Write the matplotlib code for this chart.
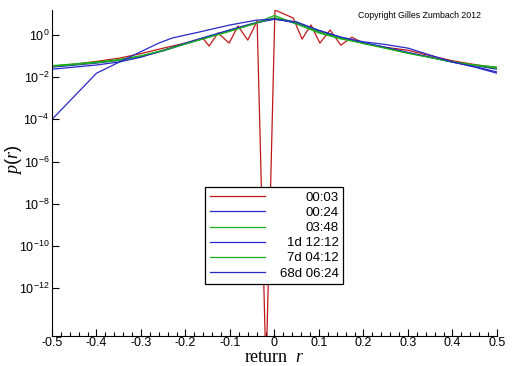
import numpy as np
import matplotlib
matplotlib.use("Agg")
import matplotlib.pyplot as plt

plt.rcParams['font.family'] = 'Liberation Sans'
plt.rcParams['mathtext.fontset'] = 'custom'
plt.rcParams['mathtext.rm'] = 'Liberation Sans'
plt.rcParams['mathtext.it'] = 'Liberation Serif:italic'

# common return grid for the smooth curves
r_grid = [-0.5, -0.45, -0.4, -0.35, -0.3, -0.25, -0.2, -0.15, -0.1, -0.05, 0.0,
          0.05, 0.1, 0.15, 0.2, 0.25, 0.3, 0.35, 0.4, 0.45, 0.5]

# 00:03 (red) - jagged at short time scale
r_0003 = [-0.5, -0.45, -0.4, -0.35, -0.3, -0.25, -0.2, -0.161, -0.147, -0.127, -0.102,
          -0.082, -0.060, -0.039, -0.019, 0.001, 0.042, 0.062, 0.082, 0.102, 0.125,
          0.149, 0.174, 0.2, 0.25, 0.3, 0.35, 0.4, 0.45, 0.5]
lp_0003 = [-1.48, -1.38, -1.25, -1.10, -0.88, -0.62, -0.38, -0.14, -0.52, 0.10, -0.38,
           0.43, -0.24, 0.67, -16.0, 1.19, 0.81, -0.19, 0.48, -0.38, 0.24,
           -0.48, -0.10, -0.40, -0.58, -0.72, -0.98, -1.22, -1.40, -1.55]

lp_0024 = [-1.52, -1.43, -1.33, -1.20, -1.02, -0.75, -0.42, -0.10, 0.22, 0.52, 0.80,
           0.55, 0.15, -0.15, -0.38, -0.60, -0.84, -1.06, -1.27, -1.45, -1.62]
lp_0348 = [-1.48, -1.40, -1.31, -1.20, -1.00, -0.72, -0.40, -0.10, 0.20, 0.50, 0.93,
           0.52, 0.10, -0.19, -0.38, -0.62, -0.86, -1.05, -1.29, -1.43, -1.57]
lp_1d = [-1.62, -1.52, -1.42, -1.28, -1.05, -0.72, -0.38, -0.06, 0.25, 0.55, 0.75,
         0.60, 0.22, -0.12, -0.36, -0.58, -0.82, -1.05, -1.28, -1.50, -1.75]
lp_7d = [-1.45, -1.37, -1.28, -1.16, -0.98, -0.73, -0.42, -0.12, 0.18, 0.52, 0.82,
         0.60, 0.15, -0.15, -0.40, -0.63, -0.86, -1.07, -1.27, -1.42, -1.52]

# 68d 06:24 (blue) - broad, sparse tail on the left
r_68d = [-0.5, -0.4, -0.34, -0.26, -0.23, -0.17, -0.1, -0.04, 0.0, 0.05, 0.1, 0.15,
         0.2, 0.25, 0.3, 0.35, 0.4, 0.45, 0.5]
lp_68d = [-4.0, -1.81, -1.19, -0.38, -0.14, 0.14, 0.48, 0.71, 0.76, 0.62, 0.22, -0.10,
          -0.32, -0.45, -0.62, -0.95, -1.28, -1.52, -1.81]

red = '#c01818'
blue = '#2828c8'
green = '#18b018'

fig = plt.figure(figsize=(5.12, 3.66), dpi=100)
ax = fig.add_axes([52/512, 1-336/366, 445/512, 326/366])

series = [
    (r_0003, lp_0003, red, '00:03'),
    (r_grid, lp_0024, blue, '00:24'),
    (r_grid, lp_0348, green, '03:48'),
    (r_grid, lp_1d, blue, '1d 12:12'),
    (r_grid, lp_7d, green, '7d 04:12'),
    (r_68d, lp_68d, blue, '68d 06:24'),
]
for r, lp, c, lab in series:
    ax.semilogy(r, 10.0 ** np.array(lp), color=c, lw=0.9, label=lab)

ax.set_xlim(-0.5, 0.5)
ax.set_ylim(10**-14.28, 10**1.19)
ax.set_xticks(np.arange(-0.5, 0.51, 0.1))
ax.set_xticklabels(['-0.5', '-0.4', '-0.3', '-0.2', '-0.1', '0', '0.1', '0.2', '0.3', '0.4', '0.5'])
ax.set_xticks(np.arange(-0.5, 0.51, 0.02), minor=True)
ax.set_yticks([10.0**k for k in range(0, -13, -2)])
ax.set_yticklabels([r'$\mathdefault{10^{%d}}$' % k for k in range(0, -13, -2)])
ax.yaxis.set_minor_locator(matplotlib.ticker.NullLocator())
ax.tick_params(axis='both', which='major', direction='in', length=5, width=0.8, labelsize=9, pad=2)
ax.tick_params(axis='x', which='major', pad=0.5)
ax.tick_params(axis='x', which='minor', direction='in', length=3, width=0.8)
ax.spines['top'].set_visible(False)
ax.spines['right'].set_visible(False)

ax.set_xlabel('return  $r$', family='Liberation Serif', fontsize=13)
ax.xaxis.set_label_coords(0.5, -0.040)
ax.set_ylabel(r'$\mathit{p(r)}$', fontsize=13)
ax.yaxis.set_label_coords(-0.064, 0.54)

fig.text(358/512, 1-15/366, 'Copyright Gilles Zumbach 2012', fontsize=6.3, va='center')

leg = ax.legend(loc='upper left', bbox_to_anchor=(205/512, 1-187/366),
                bbox_transform=fig.transFigure, frameon=True, fancybox=False,
                edgecolor='black', framealpha=1, fontsize=9.5, handlelength=4.2,
                labelspacing=0.22, handletextpad=1.1, borderpad=0.35, borderaxespad=0)
leg.get_frame().set_linewidth(0.9)

# right-align the legend labels
fig.canvas.draw()
widths = [t.get_window_extent().width for t in leg.get_texts()]
shift = max(widths)
for t, w in zip(leg.get_texts(), widths):
    t.set_position((shift - w, 0))

fig.savefig('out.png', dpi=100)
